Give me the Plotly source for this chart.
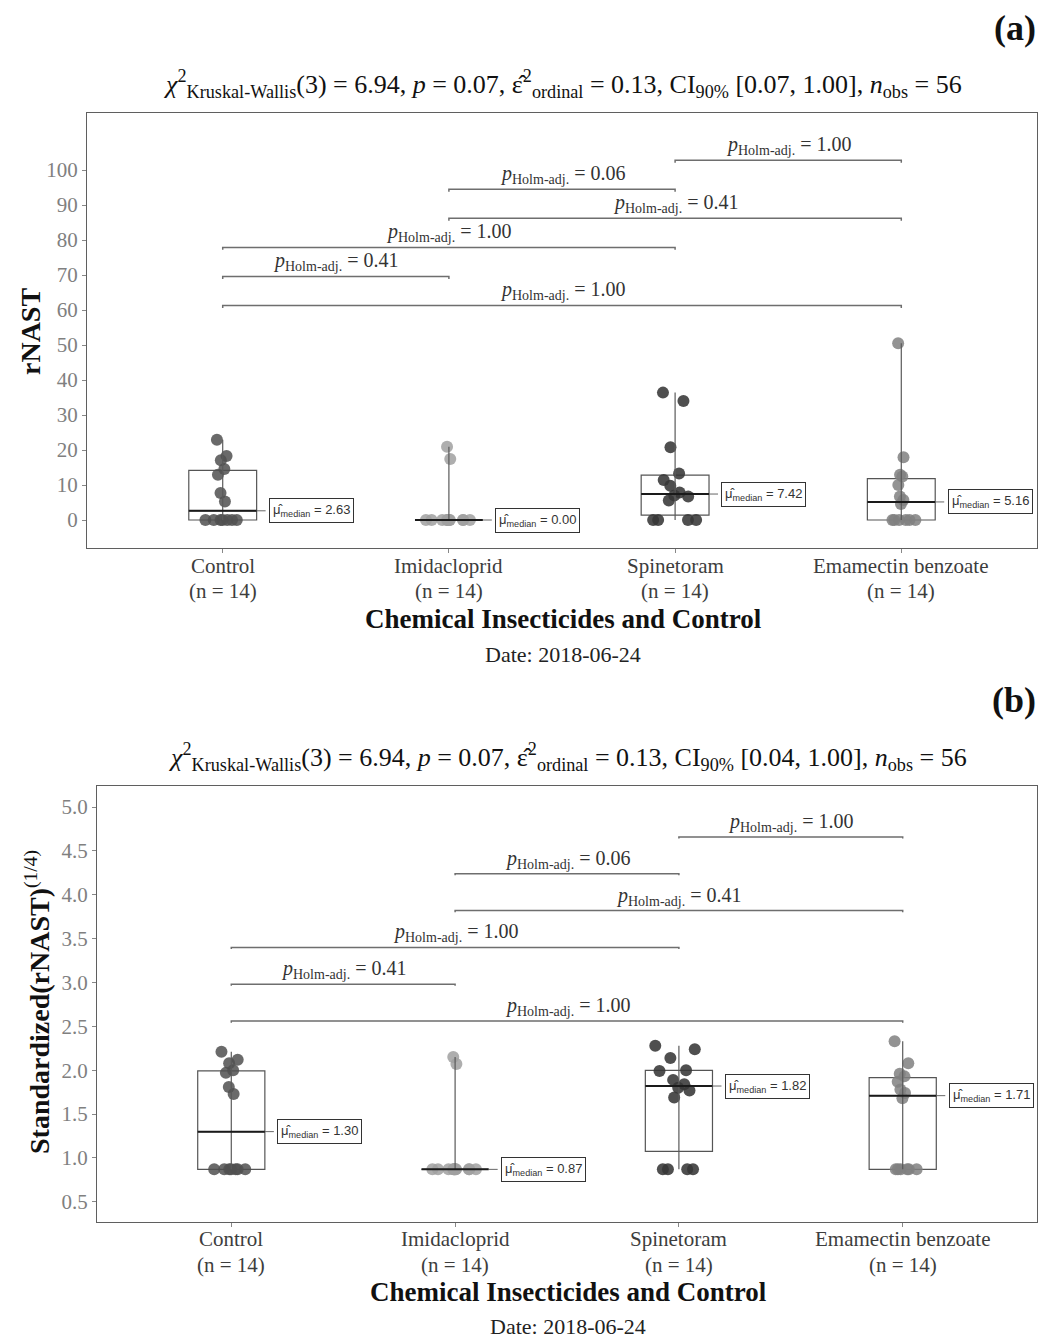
import numpy as np
import plotly.graph_objects as go

# ---------------- data ----------------
categories = ["Control", "Imidacloprid", "Spinetoram", "Emamectin benzoate"]

# panel (a): rNAST
rnast_control = [0, 0, 0, 0, 0, 0, 0, 5.26, 7.7, 12.9, 14.6, 17.1, 18.3, 22.9]
rnast_imidacloprid = [0, 0, 0, 0, 0, 0, 0, 0, 0, 0, 0, 0, 17.4, 20.9]
rnast_spinetoram = [0, 0, 0, 0, 5.6, 6.7, 7.0, 7.84, 9.8, 11.4, 13.3, 20.8, 34.0, 36.4]
rnast_emamectin = [0, 0, 0, 0, 0, 0, 4.6, 5.72, 6.7, 10.0, 12.4, 12.9, 17.9, 50.5]

# panel (b): Standardized(rNAST)^(1/4)
std_control = [0.87, 0.87, 0.87, 0.87, 0.87, 0.87, 0.87, 1.73, 1.81, 1.97, 2.0, 2.08, 2.12, 2.21]
std_imidacloprid = [0.87, 0.87, 0.87, 0.87, 0.87, 0.87, 0.87, 0.87, 0.87, 0.87, 0.87, 0.87, 2.07, 2.15]
std_spinetoram = [0.87, 0.87, 0.87, 0.87, 1.69, 1.77, 1.80, 1.84, 1.89, 1.99, 2.0, 2.14, 2.24, 2.28]
std_emamectin = [0.87, 0.87, 0.87, 0.87, 0.87, 0.87, 1.68, 1.74, 1.78, 1.87, 1.93, 1.96, 2.08, 2.33]

# pairwise comparisons (bottom to top)
pair_first = [0, 0, 0, 1, 1, 2]
pair_second = [3, 1, 2, 3, 2, 3]
p_holm_a = ["1.00", "0.41", "1.00", "0.41", "0.06", "1.00"]
p_holm_b = ["1.00", "0.41", "1.00", "0.41", "0.06", "1.00"]

ci_a = "[0.07, 1.00]"
ci_b = "[0.04, 1.00]"
kw_stat = "6.94"
kw_df = "3"
kw_p = "0.07"
eps2 = "0.13"
n_obs = "56"

yticks_a = [0, 10, 20, 30, 40, 50, 60, 70, 80, 90, 100]
yticks_b = [0.5, 1.0, 1.5, 2.0, 2.5, 3.0, 3.5, 4.0, 4.5, 5.0]

# ---------------- style ----------------
W, H = 1040, 1339
SERIF = "Liberation Serif"
SANS = "Liberation Sans"
point_colors = ["rgba(80,80,80,0.85)", "rgba(160,160,160,0.85)",
                "rgba(55,55,55,0.88)", "rgba(128,128,128,0.85)"]
BOXW = 0.3
CONN = 0.055


def py(px):
    return 1 - px / H


def px_(x):
    return x / W


fig = go.Figure()
annotations = []


def add_panel(groups, xa, ya, p_labels, lvl_start, lvl_step, tip, label_y1, label_y2):
    for i, vals in enumerate(groups):
        v = np.array(vals, dtype=float)
        q1, med, q3 = np.percentile(v, [25, 50, 75])
        # vertical range line (min-max)
        fig.add_trace(go.Scatter(x=[i, i], y=[v.min(), v.max()], mode="lines",
                                 line=dict(color="#5a5a5a", width=1.2),
                                 xaxis=xa, yaxis=ya, showlegend=False, hoverinfo="skip"))
        # box
        fig.add_trace(go.Box(x=[i], q1=[q1], median=[med], q3=[q3],
                             lowerfence=[q1], upperfence=[q3], width=BOXW,
                             fillcolor="rgba(0,0,0,0)", whiskerwidth=0,
                             line=dict(color="#555555", width=1.2),
                             xaxis=xa, yaxis=ya, showlegend=False, hoverinfo="skip"))
        # median line (thicker)
        fig.add_trace(go.Scatter(x=[i - BOXW / 2, i + BOXW / 2], y=[med, med], mode="lines",
                                 line=dict(color="#1a1a1a", width=2),
                                 xaxis=xa, yaxis=ya, showlegend=False, hoverinfo="skip"))
        # jittered points
        fig.add_trace(go.Box(y=v, x=[i] * len(v), boxpoints="all", jitter=0.8, pointpos=0,
                             width=BOXW, fillcolor="rgba(0,0,0,0)",
                             line=dict(color="rgba(0,0,0,0)", width=0), whiskerwidth=0,
                             marker=dict(color=point_colors[i], size=12),
                             xaxis=xa, yaxis=ya, showlegend=False, hoverinfo="skip"))
        # median label with dashed connector
        fig.add_trace(go.Scatter(x=[i + BOXW / 2, i + BOXW / 2 + CONN], y=[med, med], mode="lines",
                                 line=dict(color="#666666", width=1, dash="dash"),
                                 xaxis=xa, yaxis=ya, showlegend=False, hoverinfo="skip"))
        annotations.append(dict(
            x=i + BOXW / 2 + CONN, y=med, xref=xa, yref=ya, xanchor="left", yanchor="middle",
            text="μ̂<sub>median</sub> = %.2f" % med, showarrow=False,
            font=dict(family=SANS, size=13, color="#333333"),
            bordercolor="#333333", borderwidth=1, borderpad=3, bgcolor="white"))
        # category tick labels (two lines)
        annotations.append(dict(
            x=i, y=py(label_y1), xref=xa, yref="paper", xanchor="center", yanchor="middle",
            text=categories[i], showarrow=False,
            font=dict(family=SERIF, size=21, color="#3d3d3d")))
        annotations.append(dict(
            x=i, y=py(label_y2), xref=xa, yref="paper", xanchor="center", yanchor="middle",
            text="(n = %d)" % len(v), showarrow=False,
            font=dict(family=SERIF, size=21, color="#3d3d3d")))
    # brackets
    for k in range(len(pair_first)):
        a, b = pair_first[k], pair_second[k]
        lvl = lvl_start + k * lvl_step
        fig.add_trace(go.Scatter(x=[a, a, b, b], y=[lvl - tip, lvl, lvl, lvl - tip], mode="lines",
                                 line=dict(color="#6e6e6e", width=1.5),
                                 xaxis=xa, yaxis=ya, showlegend=False, hoverinfo="skip"))
        annotations.append(dict(
            x=(a + b) / 2, y=lvl, xref=xa, yref=ya, xanchor="center", yanchor="bottom",
            yshift=0, showarrow=False,
            text="<i>p</i><sub>Holm-adj.</sub> = " + p_labels[k],
            font=dict(family=SERIF, size=20, color="#333333")))


groups_a = [rnast_control, rnast_imidacloprid, rnast_spinetoram, rnast_emamectin]
groups_b = [std_control, std_imidacloprid, std_spinetoram, std_emamectin]

add_panel(groups_a, "x", "y", p_holm_a, 61.3, 8.3, 0.7, 566, 591)
add_panel(groups_b, "x2", "y2", p_holm_b, 2.56, 0.42, 0.018, 1239, 1265)

axis_common = dict(showline=True, mirror=True, linecolor="#5f5f5f", linewidth=1,
                   showgrid=False, zeroline=False, ticks="outside", ticklen=4,
                   tickcolor="#888888")

xa_style = dict(axis_common, range=[-0.6, 3.6], tickmode="array",
                tickvals=list(range(len(categories))), showticklabels=False)

fig.update_layout(
    width=W, height=H, margin=dict(l=0, r=0, t=0, b=0),
    paper_bgcolor="white", plot_bgcolor="white", showlegend=False,
    boxmode="overlay",
    xaxis=dict(xa_style, domain=[px_(87), px_(1037)], anchor="y"),
    yaxis=dict(axis_common, domain=[py(548), py(113)], range=[-8, 116.3],
               tickmode="array", tickvals=yticks_a,
               tickfont=dict(family=SERIF, size=21, color="#808080"), anchor="x"),
    xaxis2=dict(xa_style, domain=[px_(97), px_(1037)], anchor="y2"),
    yaxis2=dict(axis_common, domain=[py(1222), py(786)], range=[0.27, 5.24],
                tickmode="array", tickvals=yticks_b, tickformat=".1f",
                tickfont=dict(family=SERIF, size=21, color="#808080"), anchor="x2"),
)


def subtitle(ci):
    return ("<i>χ</i><sup>2</sup><sub>Kruskal-Wallis</sub>(%s) = %s, <i>p</i> = %s, "
            "ε̂<sup>2</sup><sub>ordinal</sub> = %s, CI<sub>90%%</sub> %s, <i>n</i><sub>obs</sub> = %s"
            % (kw_df, kw_stat, kw_p, eps2, ci, n_obs))


def paper_text(text, x, y, size, bold=False, angle=0, xanchor="center", color="#111111"):
    annotations.append(dict(text=("<b>%s</b>" % text) if bold else text, x=x, y=y,
                            xref="paper", yref="paper", xanchor=xanchor, yanchor="middle",
                            showarrow=False, textangle=angle,
                            font=dict(family=SERIF, size=size, color=color)))


# panel (a) texts
paper_text("(a)", px_(1038), py(28), 36, bold=True, xanchor="right")
paper_text(subtitle(ci_a), px_(562), py(84), 26)
paper_text("rNAST", px_(30), py(332), 28, bold=True, angle=-90)
paper_text("Chemical Insecticides and Control", px_(563), py(619), 27, bold=True)
paper_text("Date: 2018-06-24", px_(563), py(654), 22, color="#222222")

# panel (b) texts
paper_text("(b)", px_(1038), py(700), 36, bold=True, xanchor="right")
paper_text(subtitle(ci_b), px_(567), py(757), 26)
paper_text("Standardized(rNAST)<span style='font-weight:normal'><sup>(1/4)</sup></span>",
           px_(37), py(1002), 28, bold=True, angle=-90)
paper_text("Chemical Insecticides and Control", px_(568), py(1292), 27, bold=True)
paper_text("Date: 2018-06-24", px_(568), py(1326), 22, color="#222222")

fig.update_layout(annotations=annotations)
fig.write_html("out.html")
